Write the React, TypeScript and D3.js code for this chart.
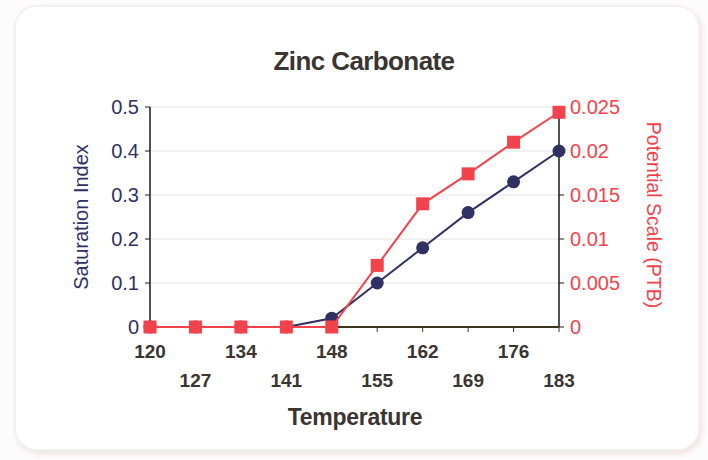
import React from "react";
import * as d3 from "d3";

const categories = ["120", "127", "134", "141", "148", "155", "162", "169", "176", "183"];
const saturationIndex = [0, 0, 0, 0, 0.02, 0.1, 0.18, 0.26, 0.33, 0.4];
const potentialScale = [0, 0, 0, 0, 0, 0.007, 0.014, 0.0174, 0.021, 0.0244];
const leftTicks = [0, 0.1, 0.2, 0.3, 0.4, 0.5];
const rightTicks = [0, 0.005, 0.01, 0.015, 0.02, 0.025];
const leftTickLabels = ["0", "0.1", "0.2", "0.3", "0.4", "0.5"];
const rightTickLabels = ["0", "0.005", "0.01", "0.015", "0.02", "0.025"];

const W = 708;
const H = 460;
const NAVY = "#2f3163";
const RED = "#f2434d";
const FONT = "Liberation Sans, Arial, sans-serif";

export default function App() {
  const left = 150, right = 559, top = 107, bottom = 327;
  const x = d3.scalePoint<string>().domain(categories).range([left, right]);
  const yL = d3.scaleLinear().domain([0, 0.5]).range([bottom, top]);
  const yR = d3.scaleLinear().domain([0, 0.025]).range([bottom, top]);

  const lineL = d3
    .line<number>()
    .x((_, i) => x(categories[i])!)
    .y((d) => yL(d));
  const lineR = d3
    .line<number>()
    .x((_, i) => x(categories[i])!)
    .y((d) => yR(d));

  return (
    <svg
      width={W}
      height={H}
      style={{ position: "fixed", left: 0, top: 0, background: "#fff" }}
      fontFamily={FONT}
    >
      <defs>
        <filter id="sh" x="-5%" y="-5%" width="110%" height="110%">
          <feGaussianBlur in="SourceAlpha" stdDeviation="3" />
          <feOffset dx="2" dy="3" result="b" />
          <feFlood floodColor="#ead3d8" floodOpacity="0.7" />
          <feComposite in2="b" operator="in" />
          <feMerge>
            <feMergeNode />
            <feMergeNode in="SourceGraphic" />
          </feMerge>
        </filter>
      </defs>
      <rect x={0} y={0} width={W} height={H} fill="#fdfcfc" />
      <rect
        x={15}
        y={6}
        width={684}
        height={444}
        rx={22}
        fill="#fff"
        stroke="#f0f0f0"
        strokeWidth={1.5}
        filter="url(#sh)"
      />

      <text x={364} y={70} textAnchor="middle" fontSize={26} fill="#3a3530" fontWeight="bold" letterSpacing={-0.6}>
        Zinc Carbonate
      </text>

      {/* gridlines */}
      {leftTicks.map((t) => (
        <line key={"g" + t} x1={left} x2={right} y1={yL(t)} y2={yL(t)} stroke="#e4e4e4" strokeWidth={1} />
      ))}

      {/* left axis */}
      <line x1={left} x2={left} y1={top} y2={bottom} stroke="#1a1a1a" strokeWidth={1.5} />
      {leftTicks.map((t, i) => (
        <g key={"l" + t}>
          <line x1={left - 5} x2={left} y1={yL(t)} y2={yL(t)} stroke="#1a1a1a" strokeWidth={1} />
          <text x={139} y={yL(t) + 7} textAnchor="end" fontSize={20} fill={NAVY}>
            {leftTickLabels[i]}
          </text>
        </g>
      ))}

      {/* right axis */}
      <line x1={right} x2={right} y1={top} y2={bottom} stroke="#1a1a1a" strokeWidth={1.5} />
      {rightTicks.map((t, i) => (
        <g key={"r" + t}>
          <line x1={right} x2={right + 5} y1={yR(t)} y2={yR(t)} stroke="#1a1a1a" strokeWidth={1} />
          <text x={570} y={yR(t) + 7} textAnchor="start" fontSize={20} fill={RED}>
            {rightTickLabels[i]}
          </text>
        </g>
      ))}

      {/* x axis */}
      <line x1={left} x2={right} y1={bottom} y2={bottom} stroke="#3b3520" strokeWidth={2} />
      {categories.map((c, i) => (
        <g key={"x" + c}>
          <line x1={x(c)!} x2={x(c)!} y1={bottom} y2={bottom + 5} stroke="#3b3520" strokeWidth={1} />
          <text
            x={x(c)!}
            y={i % 2 === 0 ? 358 : 387}
            textAnchor="middle"
            fontSize={19}
            fontWeight="bold"
            fill="#3a3530"
          >
            {c}
          </text>
        </g>
      ))}

      <text x={355} y={425} textAnchor="middle" fontSize={23} fontWeight="bold" fill="#3a3530" letterSpacing={-0.3}>
        Temperature
      </text>
      <text
        transform={`translate(88,${217}) rotate(-90)`}
        textAnchor="middle"
        fontSize={20}
        fill={NAVY}
      >
        Saturation Index
      </text>
      <text
        transform={`translate(647,${215}) rotate(90)`}
        textAnchor="middle"
        fontSize={19.5}
        fill={RED}
      >
        Potential Scale (PTB)
      </text>

      {/* series */}
      <path d={lineL(saturationIndex)!} fill="none" stroke={NAVY} strokeWidth={2} />
      {saturationIndex.map((v, i) => (
        <circle key={"c" + i} cx={x(categories[i])!} cy={yL(v)} r={6.5} fill={NAVY} />
      ))}
      <path d={lineR(potentialScale)!} fill="none" stroke={RED} strokeWidth={2} />
      {potentialScale.map((v, i) => (
        <rect
          key={"s" + i}
          x={x(categories[i])! - 6.5}
          y={yR(v) - 6.5}
          width={13}
          height={13}
          fill={RED}
        />
      ))}
    </svg>
  );
}
